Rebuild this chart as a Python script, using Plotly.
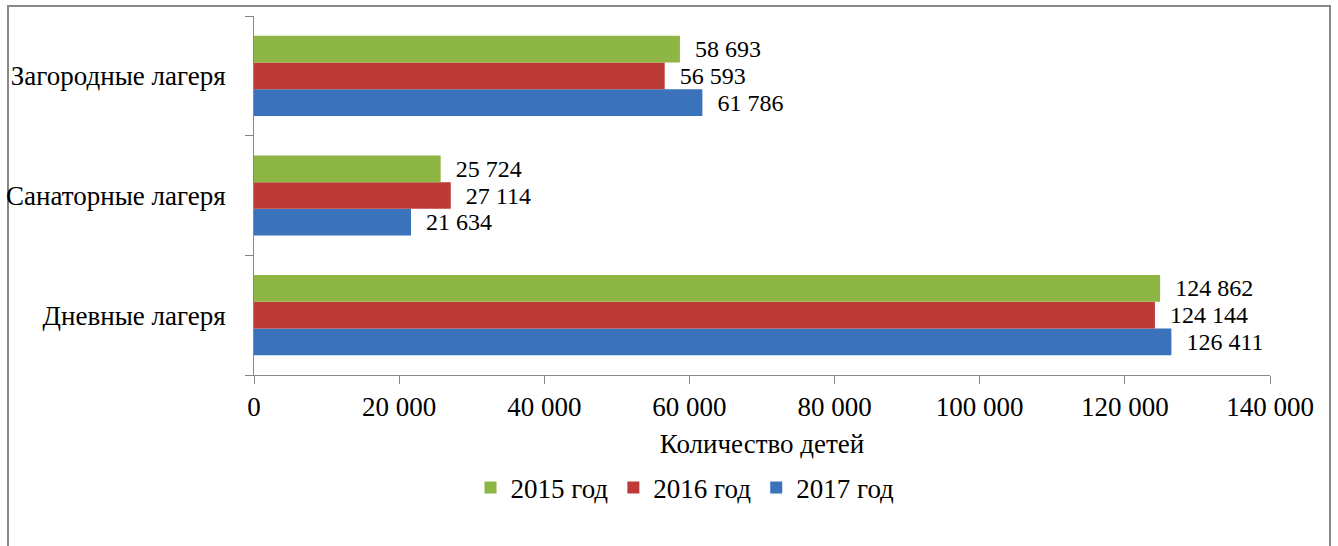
import plotly.graph_objects as go

categories = ["Дневные лагеря", "Санаторные лагеря", "Загородные лагеря"]
years = ["2015 год", "2016 год", "2017 год"]
values_2015 = [124862, 25724, 58693]
values_2016 = [124144, 27114, 56593]
values_2017 = [126411, 21634, 61786]
x_ticks = [0, 20000, 40000, 60000, 80000, 100000, 120000, 140000]

colors = {"2015 год": "#8DB645", "2016 год": "#BE3A36", "2017 год": "#3A72BC"}
series = {"2015 год": values_2015, "2016 год": values_2016, "2017 год": values_2017}

FONT = "'Liberation Serif', 'Times New Roman', serif"
FS = 27
FS_VAL = 24

fig = go.Figure()
for name in ["2017 год", "2016 год", "2015 год"]:
    fig.add_trace(go.Bar(
        y=categories, x=series[name], name=name, orientation="h",
        marker=dict(color=colors[name], line=dict(width=0)),
        texttemplate="  %{x:,d}", textposition="outside", cliponaxis=False,
        constraintext="none",
        textfont=dict(family=FONT, size=FS_VAL, color="#000000"),
    ))

W, H = 1338, 546
L, R, T, B = 254, 68, 16, 171
pw, ph = W - L - R, H - T - B

def px_x(x):
    return (x - L) / pw

def px_y(y):
    return 1 - (y - T) / ph

fig.update_layout(
    width=W, height=H,
    margin=dict(l=L, r=R, t=T, b=B, autoexpand=False),
    barmode="group", bargap=0.33, bargroupgap=0,
    paper_bgcolor="white", plot_bgcolor="white",
    separators=", ",
    font=dict(family=FONT, size=FS, color="#000000"),
    showlegend=True,
    legend=dict(orientation="h", traceorder="reversed", x=px_x(685), xanchor="center",
                y=px_y(488), yanchor="middle", font=dict(family=FONT, size=FS),
                itemwidth=30, tracegroupgap=0),
    xaxis=dict(range=[0, 140000], tickvals=x_ticks, tickformat=",d",
               showgrid=False, zeroline=False, showline=True, linecolor="#868686", linewidth=1,
               ticks="outside", ticklen=8, tickcolor="#868686",
               tickfont=dict(family=FONT, size=FS),
               title=dict(text="Количество детей", font=dict(family=FONT, size=FS), standoff=12)),
    yaxis=dict(type="category", showgrid=False, showline=True, linecolor="#868686", linewidth=1,
               ticks="outside", ticklen=8, tickcolor="#868686", tickson="boundaries",
               tickfont=dict(family=FONT, size=FS), ticklabelstandoff=22),
    shapes=[dict(type="rect", xref="paper", yref="paper",
                 x0=px_x(8), x1=px_x(1330), y0=px_y(560), y1=px_y(6),
                 line=dict(color="#888888", width=2), fillcolor="rgba(0,0,0,0)", layer="below")],
)

fig.write_html("out.html", config={"displayModeBar": False},
               post_script="document.body.style.margin='0';document.body.style.padding='0';")
